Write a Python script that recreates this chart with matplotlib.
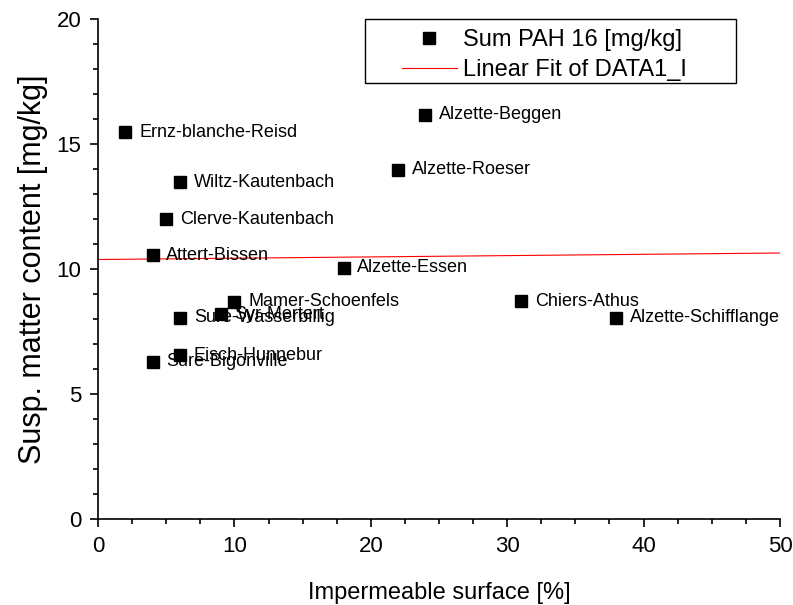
import matplotlib
matplotlib.use("Agg")
import matplotlib.pyplot as plt
from matplotlib.patches import Rectangle
from matplotlib.ticker import MultipleLocator

plt.rcParams['font.family'] = ['Liberation Sans', 'DejaVu Sans']

sites = ["Ernz-blanche-Reisd", "Alzette-Beggen", "Alzette-Roeser", "Wiltz-Kautenbach",
         "Clerve-Kautenbach", "Attert-Bissen", "Alzette-Essen", "Chiers-Athus",
         "Alzette-Schifflange", "Mamer-Schoenfels", "Syr-Mertert", "Sure-Wasserbillig",
         "Eisch-Hunnebur", "Sure-Bigonville"]
impermeable = [2, 24, 22, 6, 5, 4, 18, 31, 38, 10, 9, 6, 6, 4]
susp_content = [15.48, 16.18, 13.97, 13.48, 12.0, 10.55, 10.05, 8.72, 8.05, 8.7, 8.2, 8.05, 6.55, 6.3]

fit_x = [0, 50]
fit_y = [10.38, 10.64]

fig = plt.figure(figsize=(7.93, 6.05), dpi=100)
ax = fig.add_axes([0.1236, 0.1421, 0.86, 0.8265])

ax.plot(impermeable, susp_content, linestyle='none', marker='s', color='black',
        markersize=8, label='Sum PAH 16 [mg/kg]', zorder=3)
ax.plot(fit_x, fit_y, color='red', linewidth=0.8, label='Linear Fit of DATA1_I', zorder=2)

for name, x, y in zip(sites, impermeable, susp_content):
    ax.annotate(name, (x, y), xytext=(10, 0), textcoords='offset points',
                va='center', ha='left', fontsize=13, color='black')

ax.set_xlim(0, 50)
ax.set_ylim(0, 20)
ax.xaxis.set_major_locator(MultipleLocator(10))
ax.xaxis.set_minor_locator(MultipleLocator(2.5))
ax.yaxis.set_major_locator(MultipleLocator(5))
ax.yaxis.set_minor_locator(MultipleLocator(1))
ax.tick_params(which='major', direction='out', length=6, width=1.2, labelsize=16, pad=6)
ax.tick_params(which='minor', direction='out', length=3.5, width=1.2)
ax.spines['top'].set_visible(False)
ax.spines['right'].set_visible(False)
ax.spines['left'].set_linewidth(1.2)
ax.spines['bottom'].set_linewidth(1.2)

ax.set_xlabel('Impermeable surface [%]', fontsize=17, labelpad=18)
ax.set_ylabel('Susp. matter content [mg/kg]', fontsize=22, labelpad=6)

# legend frame drawn separately
ax.add_patch(Rectangle((0.3915, 0.872), 0.544, 0.128, transform=ax.transAxes,
                       facecolor='white', edgecolor='black', linewidth=1.0,
                       clip_on=False, zorder=4))
leg = ax.legend(loc='upper left', bbox_to_anchor=(0.4457, 0.98), fontsize=17,
                frameon=False, handlelength=2.33, borderpad=0, borderaxespad=0,
                labelspacing=0.36, handletextpad=0.25)
leg.set_zorder(5)

fig.savefig('out.png', dpi=100)
